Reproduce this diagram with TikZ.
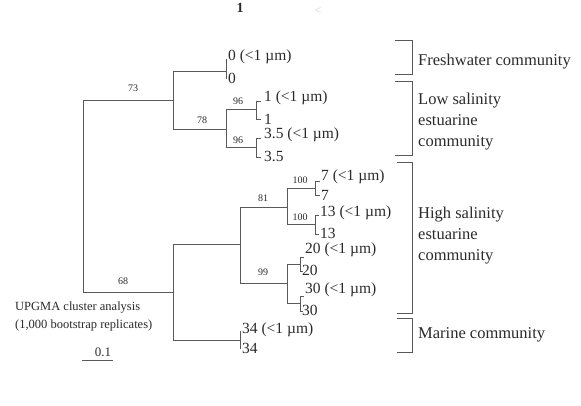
\documentclass[tikz,border=0pt]{standalone}
\usepackage{fontspec}
\setmainfont{Liberation Serif}
\definecolor{ln}{HTML}{5A5A5A}
\definecolor{tx}{HTML}{2A2A2A}
\begin{document}
\begin{tikzpicture}[x=1pt,y=-1pt,
  branch/.style={draw=ln,line width=1pt},
  leaf/.style={anchor=west,inner sep=0pt,text=tx,font=\fontsize{15.5}{17}\selectfont},
  boot/.style={inner sep=0pt,text=tx,font=\fontsize{10}{11}\selectfont},
  comm/.style={anchor=west,inner sep=0pt,text=tx,align=left,font=\fontsize{16.5}{21}\selectfont},
  note/.style={anchor=west,inner sep=0pt,text=tx,font=\fontsize{12.5}{14}\selectfont}]
\useasboundingbox (0,0) rectangle (581,405);
% stray marks at top
\node[inner sep=0pt,text=tx,font=\bfseries\fontsize{14}{14}\selectfont] (top1) at (240,8) {1};
\node[inner sep=0pt,text=gray!40,font=\fontsize{12}{12}\selectfont] (top2) at (318,11) {<};
% coordinates of clades
\coordinate (rA) at (173,100);
\coordinate (rC) at (173,292);
\coordinate (p0) at (226,71);
\coordinate (nB) at (226,129);
\coordinate (p1) at (256,109);
\coordinate (p35) at (256,147);
\coordinate (nD) at (240,244);
\coordinate (p34) at (240,340);
\coordinate (nE) at (287,207);
\coordinate (nF) at (287,283);
\coordinate (p7) at (315,188);
\coordinate (p13) at (315,224);
\coordinate (p20) at (300,264);
\coordinate (p30) at (300,303);
% tree
\draw[branch] (rA) -- (83,100) -- (83,292) -- (rC);
\draw[branch] (p0) -- (173,71) -- (173,129) -- (nB);
\draw[branch] (p1) -- (226,109) -- (226,147) -- (p35);
\draw[branch] (nD) -- (173,244) -- (173,340) -- (p34);
\draw[branch] (nE) -- (240,207) -- (240,283) -- (nF);
\draw[branch] (p7) -- (287,188) -- (287,224) -- (p13);
\draw[branch] (p20) -- (287,264) -- (287,303) -- (p30);
% leaf pairs
\draw[branch] (p0) -- (226,59) (p0) -- (226,79);
\draw[branch] (261,101) -- (256,101) -- (256,119) -- (261,119);
\draw[branch] (261,138) -- (256,138) -- (256,157) -- (261,157);
\draw[branch] (320,181) -- (315,181) -- (315,195) -- (320,195);
\draw[branch] (319,215) -- (315,215) -- (315,234) -- (319,234);
\draw[branch] (304,257) -- (300,257) -- (300,271) -- (303,271);
\draw[branch] (304,296) -- (300,296) -- (300,311) -- (303,311);
\draw[branch] (p34) -- (240,331) (p34) -- (240,349);
% leaf labels
\node[leaf] (l0a) at (228,57) {0 (<1 µm)};
\node[leaf] (l0b) at (228,78) {0};
\node[leaf] (l1a) at (264,98) {1 (<1 µm)};
\node[leaf] (l1b) at (264,119) {1};
\node[leaf] (l3a) at (264,135) {3.5 (<1 µm)};
\node[leaf] (l3b) at (264,156) {3.5};
\node[leaf] (l7a) at (321,177) {7 (<1 µm)};
\node[leaf] (l7b) at (321,195) {7};
\node[leaf] (l13a) at (320,213) {13 (<1 µm)};
\node[leaf] (l13b) at (320,233) {13};
\node[leaf] (l20a) at (305,250) {20 (<1 µm)};
\node[leaf] (l20b) at (302,270) {20};
\node[leaf] (l30a) at (305,290) {30 (<1 µm)};
\node[leaf] (l30b) at (302,310) {30};
\node[leaf] (l34a) at (242,330) {34 (<1 µm)};
\node[leaf] (l34b) at (242,348) {34};
% bootstrap values
\node[boot] (b73) at (133,88) {73};
\node[boot] (b78) at (202,120) {78};
\node[boot] (b96a) at (238,101) {96};
\node[boot] (b96b) at (238,140) {96};
\node[boot] (b81) at (263,198) {81};
\node[boot] (b100a) at (300,180) {100};
\node[boot] (b100b) at (300,217) {100};
\node[boot] (b99) at (263,272) {99};
\node[boot] (b68) at (123,281) {68};
% community brackets
\draw[branch] (395,40) -- (412,40) -- (412,74) -- (395,74);
\draw[branch] (395,81) -- (412,81) -- (412,155) -- (395,155);
\draw[branch] (397,162) -- (412,162) -- (412,313) -- (397,313);
\draw[branch] (397,318) -- (412,318) -- (412,352) -- (397,352);
\node[comm] (cf) at (418,62) {Freshwater community};
\node[comm] (cl) at (418,122) {Low salinity\\estuarine\\community};
\node[comm] (ch) at (418,236) {High salinity\\estuarine\\community};
\node[comm] (cm) at (418,335) {Marine community};
% method note and scale bar
\node[note] (m1) at (15,308) {UPGMA cluster analysis};
\node[note] (m2) at (15,325) {(1,000 bootstrap replicates)};
\coordinate (s1) at (82,360);
\coordinate (s2) at (113,360);
\draw[branch] (s1) -- (s2);
\node[inner sep=0pt,text=tx,font=\fontsize{13}{13}\selectfont] (sc) at (103,352) {0.1};
\end{tikzpicture}
\end{document}
